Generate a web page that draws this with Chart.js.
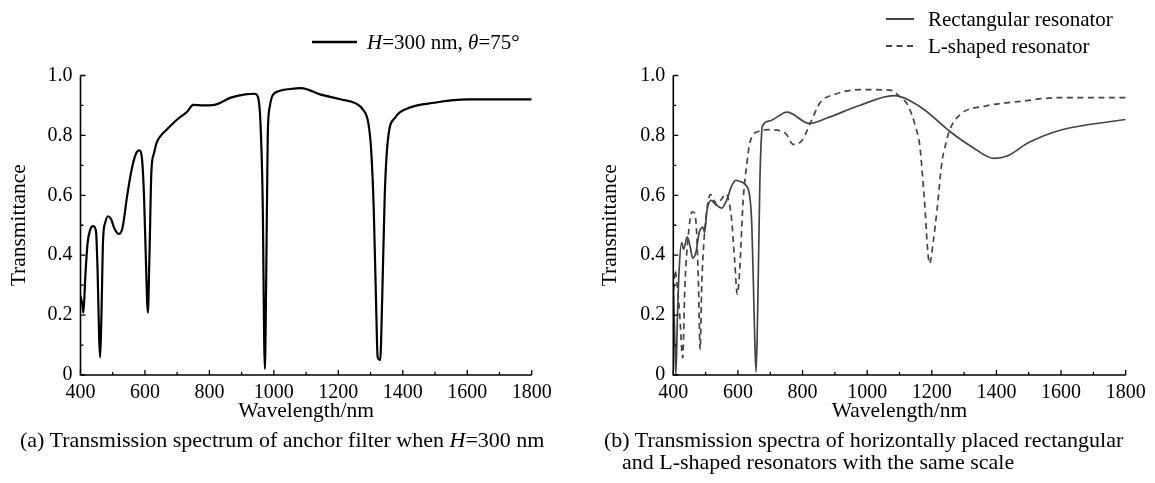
<!DOCTYPE html>
<html>
<head>
<meta charset="utf-8">
<script src="https://cdn.jsdelivr.net/npm/chart.js@4.4.1/dist/chart.umd.min.js"></script>
<style>
  body { margin:0; background:#fff; width:1155px; height:483px; position:relative; overflow:hidden; font-family:"Liberation Serif", serif; color:#000; }
  canvas { position:absolute; top:0; }
  #chartA { left:0; }
  #chartB { left:578px; }
  .txt { position:absolute; font-size:21px; line-height:24px; white-space:nowrap; }
  .cap { font-size:22px; }
  svg { position:absolute; }
</style>
</head>
<body>
<canvas id="chartA" width="578" height="483"></canvas>
<canvas id="chartB" width="577" height="483"></canvas>

<svg style="left:312px;top:40px" width="45" height="4"><line x1="0" y1="2" x2="45" y2="2" stroke="#000" stroke-width="2.5"/></svg>
<div class="txt" style="left:367px;top:30px"><i>H</i>=300 nm, <i>θ</i>=75°</div>

<svg style="left:886px;top:17px" width="28" height="4"><line x1="0" y1="2" x2="28" y2="2" stroke="#444" stroke-width="2"/></svg>
<div class="txt" style="left:928px;top:7px">Rectangular resonator</div>
<svg style="left:886px;top:44px" width="28" height="4"><line x1="0" y1="2" x2="28" y2="2" stroke="#444" stroke-width="2" stroke-dasharray="6 4.5"/></svg>
<div class="txt" style="left:928px;top:34px">L-shaped resonator</div>

<div class="txt cap" style="left:20px;top:428px">(a) Transmission spectrum of anchor filter when <i>H</i>=300 nm</div>
<div class="txt cap" style="left:604px;top:428px">(b) Transmission spectra of horizontally placed rectangular</div>
<div class="txt cap" style="left:622px;top:450px">and L-shaped resonators with the same scale</div>

<script>
// (a) anchor filter, H=300 nm
const wavelengthA = [400,405,409,415,422,430,440,448,453,458,461,465,470,477,486,495,505,519,530,545,555,565,575,583,590,597,603,609,614,620,628,636,650,668,700,730,750,780,816,866,911,940,950,958,965,972,976,981,988,995,1016,1050,1085,1143,1210,1254,1276,1293,1302,1310,1318,1322,1330,1336,1344,1354,1376,1420,1498,1600,1800];
const transA = [0.262,0.24,0.208,0.33,0.44,0.485,0.497,0.48,0.35,0.12,0.059,0.2,0.45,0.51,0.53,0.52,0.49,0.471,0.49,0.6,0.665,0.715,0.745,0.75,0.73,0.6,0.38,0.208,0.4,0.68,0.74,0.775,0.8,0.82,0.853,0.878,0.902,0.9,0.902,0.926,0.937,0.939,0.93,0.85,0.6,0.02,0.3,0.8,0.9,0.931,0.948,0.955,0.958,0.937,0.92,0.907,0.887,0.842,0.75,0.55,0.2,0.06,0.05,0.25,0.6,0.787,0.859,0.892,0.909,0.92,0.92];

// (b) rectangular resonator
const wavelengthRect = [400,404,408,413,418,426,432,443,452,460,471,479,491,497,504,517,530,549,564,580,593,610,622,637,643,648,652,656,660,664,668,672,676,698,752,821,876,976,1082,1166,1255,1321,1394,1433,1500,1600,1800];
const transRect = [0.3,0.15,0,0.2,0.35,0.442,0.42,0.461,0.43,0.39,0.414,0.47,0.494,0.476,0.548,0.583,0.57,0.557,0.581,0.63,0.65,0.645,0.637,0.593,0.5,0.3,0.12,0.01,0.15,0.4,0.65,0.78,0.831,0.848,0.878,0.84,0.858,0.9,0.933,0.894,0.814,0.764,0.723,0.731,0.776,0.818,0.853];

// (b) L-shaped resonator
const wavelengthL = [400,405,412,420,429,436,445,458,466,472,478,483,488,495,505,515,525,535,548,564,572,580,590,598,606,616,627,637,665,698,748,771,798,826,854,899,988,1071,1099,1127,1149,1163,1176,1193,1205,1216,1232,1238,1255,1288,1366,1477,1589,1800];
const transL = [0.25,0.35,0.3,0.2,0.057,0.3,0.45,0.545,0.54,0.48,0.3,0.085,0.3,0.45,0.56,0.603,0.585,0.57,0.585,0.605,0.58,0.525,0.38,0.27,0.36,0.58,0.7,0.776,0.814,0.819,0.806,0.77,0.783,0.846,0.909,0.937,0.953,0.951,0.931,0.898,0.831,0.764,0.6,0.372,0.45,0.55,0.717,0.748,0.817,0.87,0.898,0.914,0.926,0.926];

const xTicks = [400,600,800,1000,1200,1400,1600,1800];
const yTicks = [0,0.2,0.4,0.6,0.8,1.0];

const serif = '"Liberation Serif", "Times New Roman", serif';

function pts(xs, ys) {
    return xs.map(function(x, i){ return {x: x, y: ys[i]}; });
}

// axis lines + inward major/minor ticks
const innerTicks = {
    id: 'innerTicks',
    afterDraw(chart) {
        const ctx = chart.ctx;
        const a = chart.chartArea;
        const x = chart.scales.x, y = chart.scales.y;
        ctx.save();
        ctx.strokeStyle = '#000';
        ctx.lineWidth = 1.6;
        ctx.beginPath();
        ctx.moveTo(a.left, a.top);
        ctx.lineTo(a.left, a.bottom);
        ctx.lineTo(a.right, a.bottom);
        ctx.stroke();
        ctx.lineWidth = 1.3;
        ctx.beginPath();
        for (let v = xTicks[0]; v <= xTicks[xTicks.length-1]; v += 100) {
            const px = x.getPixelForValue(v);
            const len = xTicks.includes(v) ? 5 : 3;
            ctx.moveTo(px, a.bottom);
            ctx.lineTo(px, a.bottom - len);
        }
        for (let i = 0; i <= 10; i++) {
            const py = y.getPixelForValue(i / 10);
            const len = i % 2 === 0 ? 5 : 3;
            ctx.moveTo(a.left, py);
            ctx.lineTo(a.left + len, py);
        }
        ctx.stroke();
        ctx.restore();
    }
};

function makeOptions(yWidth, rightPad, yTitlePad) {
    return {
        responsive: false,
        animation: false,
        layout: { padding: { left: 0, right: rightPad, top: 75.5, bottom: 58 } },
        plugins: { legend: { display: false }, tooltip: { enabled: false } },
        elements: { point: { radius: 0 } },
        scales: {
            x: {
                type: 'linear', min: 400, max: 1800,
                afterFit: function(s){ s.height = 50; },
                afterBuildTicks: function(s){ s.ticks = xTicks.map(function(v){ return {value: v}; }); },
                grid: { display: false, drawTicks: false },
                border: { display: false },
                ticks: {
                    color: '#000', padding: 6, maxRotation: 0, autoSkip: false, font: { family: serif, size: 20 },
                    callback: function(v){ return String(v); }
                },
                title: { display: true, text: 'Wavelength/nm', color: '#000', padding: { top: 0, bottom: 1 }, font: { family: serif, size: 21.5 } }
            },
            y: {
                min: 0, max: 1,
                afterFit: function(s){ s.width = yWidth; },
                afterBuildTicks: function(s){ s.ticks = yTicks.map(function(v){ return {value: v}; }); },
                grid: { display: false, drawTicks: false },
                border: { display: false },
                ticks: {
                    color: '#000', padding: 8, font: { family: serif, size: 20 },
                    callback: function(v){ return v === 0 ? '0' : v.toFixed(1); }
                },
                title: { display: true, text: 'Transmittance', color: '#000', padding: { top: yTitlePad, bottom: 0 }, font: { family: serif, size: 21.5 } }
            }
        }
    };
}

new Chart(document.getElementById('chartA'), {
    type: 'line',
    data: {
        datasets: [{
            label: 'H=300 nm, θ=75°',
            data: pts(wavelengthA, transA),
            borderColor: '#000',
            borderWidth: 2.2,
            fill: false,
            cubicInterpolationMode: 'monotone'
        }]
    },
    options: makeOptions(80.5, 46.3, 6),
    plugins: [innerTicks]
});

new Chart(document.getElementById('chartB'), {
    type: 'line',
    data: {
        datasets: [{
            label: 'Rectangular resonator',
            data: pts(wavelengthRect, transRect),
            borderColor: '#444',
            borderWidth: 1.7,
            fill: false,
            cubicInterpolationMode: 'monotone'
        }, {
            label: 'L-shaped resonator',
            data: pts(wavelengthL, transL),
            borderColor: '#444',
            borderWidth: 1.7,
            borderDash: [6, 4.5],
            fill: false,
            cubicInterpolationMode: 'monotone'
        }]
    },
    options: makeOptions(95.3, 29.3, 19),
    plugins: [innerTicks]
});
</script>
</body>
</html>
